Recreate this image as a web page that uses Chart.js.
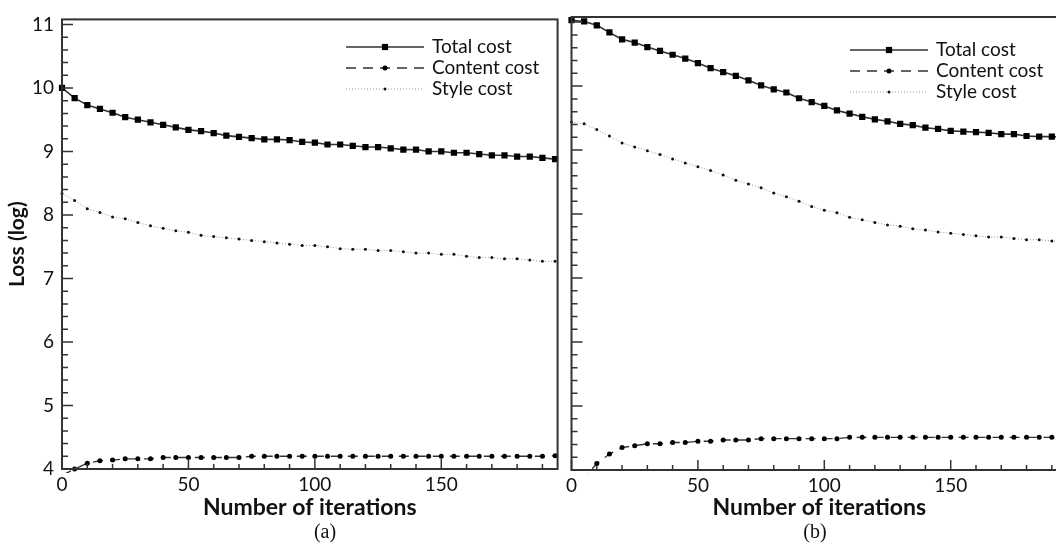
<!DOCTYPE html>
<html>
<head>
<meta charset="utf-8">
<script src="https://cdn.jsdelivr.net/npm/chart.js@4.4.1/dist/chart.umd.min.js"></script>
<style>
  html, body { margin: 0; padding: 0; background: #fff; overflow: hidden; }
  #wrap { position: relative; width: 1056px; height: 547px; overflow: hidden; }
  canvas { position: absolute; top: 0; }
  #chartA { left: 0; }
  #chartB { left: 562px; }
</style>
</head>
<body>
<div id="wrap">
  <canvas id="chartA" width="562" height="547"></canvas>
  <canvas id="chartB" width="512" height="547"></canvas>
</div>
<script>
// iterations (x) shared by both panels
const iterations = [0, 5, 10, 15, 20, 25, 30, 35, 40, 45, 50, 55, 60, 65, 70, 75, 80, 85, 90, 95,
  100, 105, 110, 115, 120, 125, 130, 135, 140, 145, 150, 155, 160, 165, 170, 175, 180, 185, 190, 195];

// panel (a)
const totalA = [10.00, 9.84, 9.73, 9.67, 9.61, 9.54, 9.50, 9.46, 9.42, 9.38,
  9.34, 9.32, 9.29, 9.25, 9.23, 9.21, 9.19, 9.19, 9.18, 9.15,
  9.14, 9.11, 9.11, 9.09, 9.07, 9.07, 9.05, 9.03, 9.03, 9.00,
  9.00, 8.98, 8.98, 8.96, 8.94, 8.94, 8.92, 8.92, 8.90, 8.88];
const contentA = [3.90, 4.00, 4.09, 4.13, 4.14, 4.16, 4.16, 4.16, 4.18, 4.18,
  4.18, 4.18, 4.18, 4.18, 4.18, 4.20, 4.20, 4.20, 4.20, 4.20,
  4.20, 4.20, 4.20, 4.20, 4.20, 4.20, 4.20, 4.20, 4.20, 4.20,
  4.20, 4.20, 4.20, 4.20, 4.20, 4.20, 4.20, 4.20, 4.20, 4.21];
const styleA = [8.34, 8.23, 8.10, 8.04, 7.97, 7.94, 7.88, 7.83, 7.79, 7.75,
  7.73, 7.68, 7.66, 7.64, 7.62, 7.60, 7.58, 7.56, 7.54, 7.52,
  7.52, 7.50, 7.47, 7.46, 7.46, 7.44, 7.44, 7.42, 7.40, 7.40,
  7.38, 7.38, 7.35, 7.33, 7.33, 7.31, 7.31, 7.29, 7.27, 7.27];

// panel (b)
const totalB = [11.03, 11.01, 10.95, 10.84, 10.73, 10.68, 10.61, 10.55, 10.49, 10.43,
  10.36, 10.28, 10.22, 10.16, 10.09, 10.01, 9.95, 9.90, 9.81, 9.75,
  9.69, 9.62, 9.57, 9.52, 9.48, 9.45, 9.41, 9.39, 9.35, 9.33,
  9.30, 9.29, 9.28, 9.27, 9.25, 9.25, 9.22, 9.21, 9.21, 9.20];
const contentB = [3.60, 3.88, 4.10, 4.25, 4.35, 4.38, 4.41, 4.41, 4.43, 4.43,
  4.45, 4.45, 4.47, 4.47, 4.47, 4.49, 4.49, 4.49, 4.49, 4.49,
  4.49, 4.49, 4.51, 4.51, 4.51, 4.51, 4.51, 4.51, 4.51, 4.51,
  4.51, 4.51, 4.51, 4.51, 4.51, 4.51, 4.51, 4.51, 4.51, 4.51];
const styleB = [9.44, 9.41, 9.32, 9.22, 9.11, 9.05, 8.99, 8.93, 8.86, 8.80,
  8.74, 8.68, 8.61, 8.53, 8.47, 8.41, 8.33, 8.27, 8.20, 8.12,
  8.06, 8.02, 7.95, 7.91, 7.87, 7.83, 7.81, 7.77, 7.75, 7.72,
  7.70, 7.68, 7.66, 7.64, 7.64, 7.62, 7.60, 7.60, 7.58, 7.57];

const seriesNames = ['Total cost', 'Content cost', 'Style cost'];
const yTickValues = [4, 5, 6, 7, 8, 9, 10, 11];
const xTickValues = [0, 50, 100, 150];

Chart.defaults.font.family = 'Lato, "Open Sans", sans-serif';
Chart.defaults.color = '#111';

// frame, inward ticks, line legend and panel caption
const panelDecor = {
  id: 'panelDecor',
  afterDraw(chart, args, opts) {
    const ctx = chart.ctx;
    const { left, right, top, bottom } = chart.chartArea;
    const xs = chart.scales.x, ys = chart.scales.y;
    ctx.save();
    ctx.strokeStyle = '#333';
    ctx.lineWidth = 2;
    ctx.strokeRect(left, top, right - left, bottom - top);

    ctx.lineWidth = 1.5;
    ctx.beginPath();
    for (let i = 0; i <= 35; i++) {
      const y = ys.getPixelForValue(4 + i * 0.2);
      const len = i % 5 === 0 ? 11 : 6;
      ctx.moveTo(left, y);
      ctx.lineTo(left + len, y);
    }
    for (let v = 0; v <= 190; v += 10) {
      const x = xs.getPixelForValue(v);
      const len = v % 50 === 0 ? 10 : 5;
      ctx.moveTo(x, bottom);
      ctx.lineTo(x, bottom - len);
    }
    ctx.stroke();

    // legend
    ctx.font = '19px Lato, "Open Sans", sans-serif';
    ctx.textBaseline = 'middle';
    ctx.textAlign = 'left';
    chart.data.datasets.forEach((ds, i) => {
      const y = opts.legendY + i * 21;
      ctx.strokeStyle = ds.borderColor;
      ctx.lineWidth = ds.borderWidth;
      ctx.setLineDash(ds.borderDash || []);
      ctx.beginPath();
      ctx.moveTo(opts.legendX, y);
      ctx.lineTo(opts.legendX + 78, y);
      ctx.stroke();
      ctx.setLineDash([]);
      ctx.fillStyle = ds.pointBackgroundColor;
      const mx = opts.legendX + 39, r = ds.pointRadius;
      ctx.beginPath();
      if (ds.pointStyle === 'rect') {
        const s = r * Math.SQRT1_2;
        ctx.rect(mx - s, y - s, 2 * s, 2 * s);
      } else {
        ctx.arc(mx, y, r, 0, Math.PI * 2);
      }
      ctx.fill();
      ctx.fillStyle = '#111';
      ctx.fillText(ds.label, opts.legendX + 86, y);
    });

    ctx.font = '20px "Liberation Serif", serif';
    ctx.textAlign = 'center';
    ctx.fillText(opts.caption, opts.captionX, 533);
    ctx.restore();
  }
};

function makeDatasets(total, content, style) {
  const pts = arr => arr.map((v, i) => ({ x: iterations[i], y: v }));
  return [
    { label: seriesNames[0], data: pts(total), borderColor: '#333', borderWidth: 1.6,
      pointStyle: 'rect', pointRadius: 4.4, pointBackgroundColor: '#000', pointBorderWidth: 0, clip: 4 },
    { label: seriesNames[1], data: pts(content), borderColor: '#333', borderWidth: 1.4, borderDash: [10, 7],
      pointStyle: 'circle', pointRadius: 2.5, pointBackgroundColor: '#000', pointBorderWidth: 0, clip: 4 },
    { label: seriesNames[2], data: pts(style), borderColor: '#999', borderWidth: 1, borderDash: [1, 2],
      pointStyle: 'circle', pointRadius: 1.5, pointBackgroundColor: '#111', pointBorderWidth: 0, clip: 4 }
  ];
}

function makePanel(id, datasets, p) {
  return new Chart(document.getElementById(id), {
    type: 'line',
    data: { datasets: datasets },
    options: {
      responsive: false,
      animation: false,
      events: [],
      layout: { padding: { top: p.top, right: p.right, left: 0, bottom: 0 } },
      plugins: {
        legend: { display: false },
        tooltip: { enabled: false },
        panelDecor: { legendX: p.legendX, legendY: p.legendY, caption: p.caption, captionX: p.captionX }
      },
      scales: {
        x: {
          type: 'linear', min: 0, max: 196,
          afterBuildTicks: s => { s.ticks = xTickValues.map(v => ({ value: v })); },
          afterFit: s => { s.height = p.xHeight; },
          ticks: { padding: 4, font: { size: 19 }, maxRotation: 0, autoSkip: false },
          grid: { display: false, drawTicks: false },
          border: { display: false },
          title: { display: true, text: 'Number of iterations', font: { size: 23, weight: 'bold' },
                   padding: { top: 0, bottom: 26 } }
        },
        y: {
          type: 'linear', min: 4, max: 11.08,
          afterBuildTicks: s => { s.ticks = yTickValues.map(v => ({ value: v })); },
          afterFit: s => { s.width = p.yWidth; },
          ticks: { display: p.showY, padding: 8, font: { size: 19 } },
          grid: { display: false, drawTicks: false },
          border: { display: false },
          title: { display: p.showY, text: 'Loss (log)', font: { size: 21, weight: 'bold' },
                   padding: { top: 5, bottom: 0 } }
        }
      }
    },
    plugins: [panelDecor]
  });
}

makePanel('chartA', makeDatasets(totalA, contentA, styleA),
  { top: 15, right: 3, xHeight: 78, yWidth: 62, showY: true, legendX: 346, legendY: 47, caption: '(a)', captionX: 325 });
makePanel('chartB', makeDatasets(totalB, contentB, styleB),
  { top: 17, right: 7, xHeight: 77, yWidth: 5, showY: false, legendX: 288, legendY: 50, caption: '(b)', captionX: 253 });
</script>
</body>
</html>
